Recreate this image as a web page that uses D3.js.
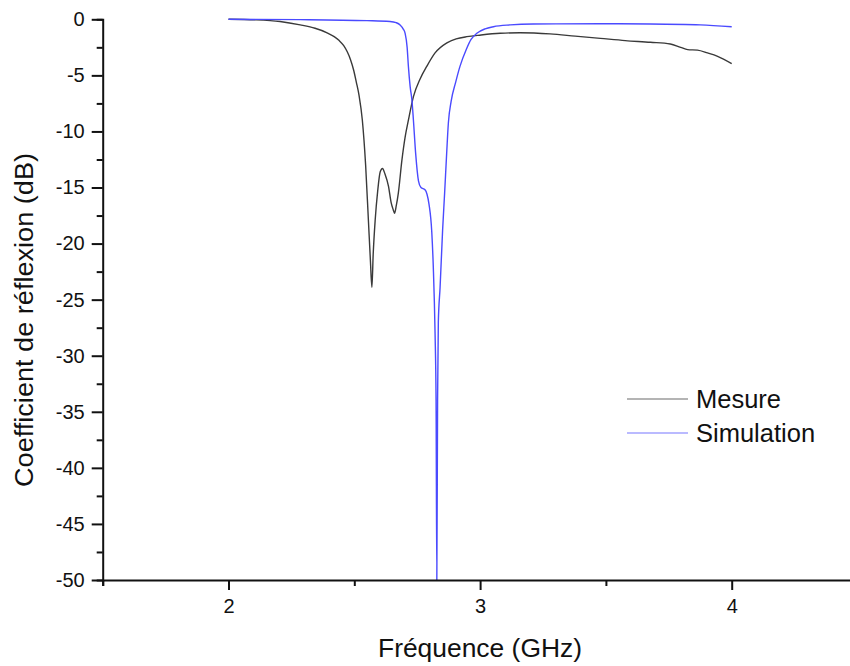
<!DOCTYPE html>
<html>
<head>
<meta charset="utf-8">
<script src="https://cdn.jsdelivr.net/npm/d3@7"></script>
<style>
  html, body { margin: 0; padding: 0; background: #fff; }
  svg { display: block; }
  text { font-family: "Liberation Sans", Arial, sans-serif; fill: #111; }
</style>
</head>
<body>
<svg id="chart" width="850" height="666"></svg>
<script>
// ---- data ----
const xTicks = [2, 3, 4];
const xMinorTicks = [1.5, 2.5, 3.5, 4.5];
const yTicks = [0, -5, -10, -15, -20, -25, -30, -35, -40, -45, -50];
const yMinorTicks = [-2.5, -7.5, -12.5, -17.5, -22.5, -27.5, -32.5, -37.5, -42.5, -47.5];

const mesureFreq = [2.000, 2.106, 2.205, 2.285, 2.344, 2.392, 2.420, 2.440, 2.458, 2.472,
  2.485, 2.497, 2.508, 2.519, 2.532, 2.545, 2.556, 2.564, 2.570, 2.575,
  2.583, 2.593, 2.603, 2.612, 2.622, 2.636, 2.646, 2.655, 2.660, 2.667,
  2.675, 2.689, 2.702, 2.715, 2.735, 2.762, 2.788, 2.821, 2.868, 2.905,
  2.947, 3.004, 3.080, 3.159, 3.278, 3.378, 3.478, 3.577, 3.677, 3.756,
  3.797, 3.825, 3.864, 3.904, 3.944, 4.000];
const mesureDb = [0, -0.05, -0.2, -0.5, -0.8, -1.2, -1.55, -1.9, -2.35, -2.9,
  -3.6, -4.5, -5.6, -6.8, -9.0, -13, -17.9, -21.5, -23.9, -21,
  -17.9, -15.3, -13.6, -13.3, -13.8, -14.9, -16.3, -17.0, -17.3, -16.6,
  -15.5, -12.6, -10.5, -9.0, -6.9, -5.3, -4.2, -3.0, -2.1, -1.75,
  -1.55, -1.4, -1.25, -1.2, -1.3, -1.5, -1.7, -1.9, -2.05, -2.2,
  -2.5, -2.7, -2.75, -3.0, -3.3, -3.95];

const simFreq = [2.000, 2.285, 2.550, 2.642, 2.666, 2.682, 2.694, 2.702, 2.710, 2.715,
  2.722, 2.729, 2.735, 2.744, 2.755, 2.765, 2.781, 2.789, 2.797, 2.808,
  2.814, 2.821, 2.825, 2.828, 2.831, 2.834, 2.841, 2.851, 2.859, 2.867,
  2.874, 2.885, 2.903, 2.920, 2.945, 2.964, 2.987, 3.020, 3.053, 3.120,
  3.211, 3.477, 3.676, 3.875, 4.000];
const simDb = [0, -0.03, -0.12, -0.2, -0.3, -0.5, -0.85, -1.25, -2.5, -4.2,
  -6, -7.2, -9.0, -12, -14.4, -15.0, -15.2, -15.6, -16.5, -19,
  -22.1, -28, -34, -50, -34, -27, -23.9, -18.8, -15.5, -12,
  -9.2, -7.3, -5.6, -4.2, -2.7, -1.8, -1.25, -0.85, -0.66, -0.5,
  -0.42, -0.4, -0.42, -0.5, -0.66];

const seriesNames = ["Mesure", "Simulation"];
const seriesColors = ["#3a3a3a", "#4a4aff"];

// ---- layout ----
const svg = d3.select("#chart");
const x = d3.scaleLinear().domain([1.5, 4.5]).range([102.7, 857.5]);
const y = d3.scaleLinear().domain([-50, 0]).range([580, 19.3]);

const series = [
  { name: seriesNames[0], color: seriesColors[0], pts: mesureFreq.map((f, i) => [f, mesureDb[i]]) },
  { name: seriesNames[1], color: seriesColors[1], pts: simFreq.map((f, i) => [f, simDb[i]]) }
];

svg.append("defs").append("clipPath").attr("id", "plotclip")
  .append("rect").attr("x", x(1.5)).attr("y", y(0) - 5).attr("width", x(4.5) - x(1.5)).attr("height", y(-50) - y(0) + 5);

const line = d3.line().x(d => x(d[0])).y(d => y(d[1])).curve(d3.curveMonotoneX);

const plot = svg.append("g").attr("clip-path", "url(#plotclip)");
series.forEach(s => {
  plot.append("path").datum(s.pts)
    .attr("fill", "none").attr("stroke", s.color).attr("stroke-width", 1.4)
    .attr("stroke-linejoin", "round").attr("d", line);
});

// ---- axes ----
function styleAxis(g) {
  g.selectAll("path.domain").attr("stroke", "#111").attr("stroke-width", 2);
  g.selectAll(".tick line").attr("stroke", "#111").attr("stroke-width", 2);
  g.selectAll(".tick text").style("font-family", '"Liberation Sans", Arial, sans-serif').attr("font-size", 20).attr("fill", "#111");
}
const fmt = d => String(d);

// x minor
svg.append("g").attr("transform", `translate(0,${y(-50)})`)
  .call(d3.axisBottom(x).tickValues(xMinorTicks).tickSize(6).tickFormat(""))
  .call(styleAxis);
// x major
svg.append("g").attr("transform", `translate(0,${y(-50)})`)
  .call(d3.axisBottom(x).tickValues(xTicks).tickSize(10).tickPadding(9).tickFormat(fmt))
  .call(styleAxis)
  .call(g => g.select("path.domain").remove());

// y minor
svg.append("g").attr("transform", `translate(${x(1.5)},0)`)
  .call(d3.axisLeft(y).tickValues(yMinorTicks).tickSize(6).tickFormat(""))
  .call(styleAxis);
// y major
svg.append("g").attr("transform", `translate(${x(1.5)},0)`)
  .call(d3.axisLeft(y).tickValues(yTicks).tickSize(11).tickPadding(7).tickFormat(fmt))
  .call(styleAxis)
  .call(g => g.select("path.domain").remove());

// ---- titles ----
svg.append("text").attr("x", 480).attr("y", 657).attr("text-anchor", "middle")
  .attr("font-size", 25).attr("textLength", 204).attr("lengthAdjust", "spacingAndGlyphs")
  .text("Fréquence (GHz)");

svg.append("text").attr("transform", "translate(33,320) rotate(-90)").attr("text-anchor", "middle")
  .attr("font-size", 25).attr("textLength", 334).attr("lengthAdjust", "spacingAndGlyphs")
  .text("Coefficient de réflexion (dB)");

// ---- legend ----
const legendY = [399, 433];
series.forEach((s, i) => {
  svg.append("line").attr("x1", 627).attr("x2", 688).attr("y1", legendY[i]).attr("y2", legendY[i])
    .attr("stroke", s.color).attr("stroke-width", 1.2).attr("stroke-opacity", 0.75);
  svg.append("text").attr("x", 696).attr("y", legendY[i] + 9).attr("font-size", 25.5).text(s.name);
});
</script>
</body>
</html>
